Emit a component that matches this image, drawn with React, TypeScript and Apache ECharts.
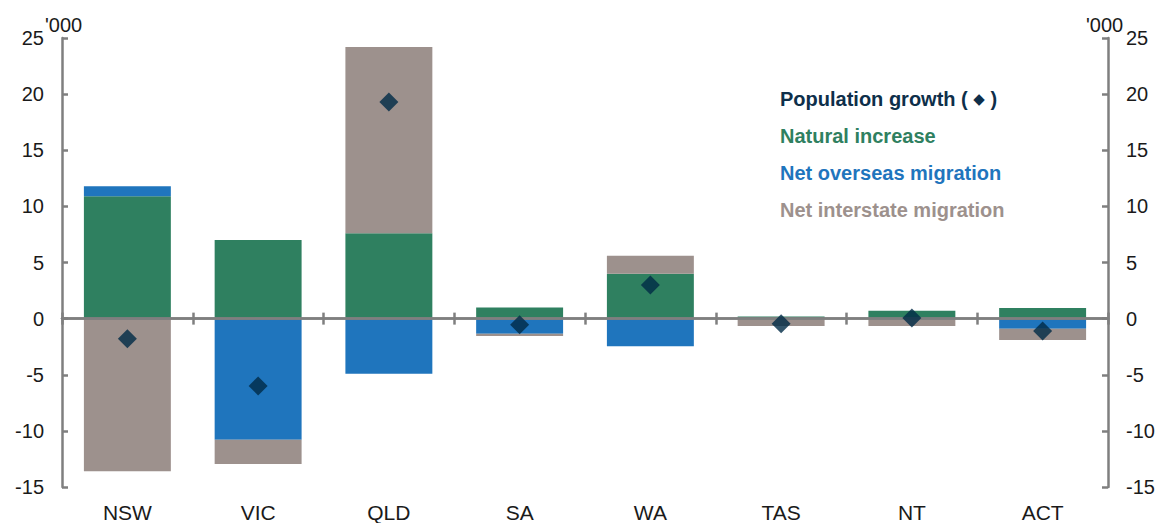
import React, { useEffect, useRef } from "react";
import * as echarts from "echarts";

const categories = ["NSW", "VIC", "QLD", "SA", "WA", "TAS", "NT", "ACT"];
const naturalIncrease = [10.9, 7.0, 7.6, 1.0, 4.0, 0.2, 0.7, 0.95];
const netOverseasMigration = [0.9, -10.8, -4.9, -1.35, -2.45, 0, 0, -0.9];
const netInterstateMigration = [-13.6, -2.15, 16.6, -0.2, 1.6, -0.65, -0.65, -1.0];
const populationGrowth = [-1.8, -6.0, 19.3, -0.55, 3.0, -0.45, 0.05, -1.1];
const unitLabel = "'000";

const FONT = "Liberation Sans, Arial, sans-serif";
const AXIS_COLOR = "#7f7f7f";
const GREEN = "#2F8060";
const BLUE = "#1F75BD";
const GREY = "#9D918D";
const NAVY = "#002A46";

export default function App() {
  const ref = useRef<HTMLDivElement>(null);
  useEffect(() => {
    if (!ref.current) return;
    const chart = echarts.init(ref.current, null, { renderer: "svg" });
    const yAxisBase = (position: "left" | "right") => ({
      type: "value",
      min: -15,
      max: 25,
      interval: 5,
      position,
      axisLine: { show: true, onZero: false, lineStyle: { color: AXIS_COLOR, width: 2.5 } },
      axisTick: { show: true, inside: true, length: 6, lineStyle: { color: AXIS_COLOR, width: 2.5 } },
      splitLine: { show: false },
      axisLabel: { fontSize: 20, color: "#1a1a1a", margin: 18, fontFamily: FONT },
    });
    const zeroAxis = (inside: boolean) => ({
      type: "category",
      data: categories,
      position: "bottom",
      z: 10,
      axisLine: { show: true, onZero: true, lineStyle: { color: AXIS_COLOR, width: 2.5 } },
      axisTick: { show: true, inside, length: 6, lineStyle: { color: AXIS_COLOR, width: 2.5 } },
      axisLabel: { show: false },
      splitLine: { show: false },
    });
    const barBase = {
      type: "bar",
      stack: "total",
      barWidth: "66.5%",
      xAxisIndex: 0,
      yAxisIndex: 0,
      emphasis: { disabled: true },
    };
    const unitText = (x: number) => ({
      type: "text",
      left: x,
      top: 15,
      style: { text: unitLabel, fontSize: 20, fill: "#1a1a1a", fontFamily: FONT },
    });
    chart.setOption({
      animation: false,
      textStyle: { fontFamily: FONT },
      grid: { left: 62, right: 56, top: 38, bottom: 33, containLabel: false },
      graphic: [unitText(45), unitText(1086)],
      legend: {
        orient: "vertical",
        left: 770,
        top: 84,
        icon: "none",
        itemWidth: 0,
        itemHeight: 20,
        itemGap: 17,
        selectedMode: false,
        formatter: (name: string) =>
          name.startsWith("Population") ? "Population growth ( {d|\u25C6} )" : name,
        textStyle: {
          fontSize: 20,
          fontWeight: "bold",
          fontFamily: FONT,
          rich: { d: { fontSize: 15, color: "#0E2F4A", fontFamily: "DejaVu Sans" } },
        },
        data: [
          { name: "Population growth (\u25C6)", textStyle: { color: "#0E2F4A" } },
          { name: "Natural increase", textStyle: { color: GREEN } },
          { name: "Net overseas migration", textStyle: { color: BLUE } },
          { name: "Net interstate migration", textStyle: { color: GREY } },
        ],
      },
      xAxis: [
        {
          type: "category",
          data: categories,
          position: "bottom",
          axisLine: { show: false, onZero: false },
          axisTick: { show: false },
          axisLabel: { fontSize: 21, color: "#1a1a1a", margin: 15, fontFamily: FONT },
          splitLine: { show: false },
        },
        zeroAxis(false),
        zeroAxis(true),
      ],
      yAxis: [yAxisBase("left"), yAxisBase("right")],
      series: [
        { ...barBase, name: "Natural increase", data: naturalIncrease, itemStyle: { color: GREEN } },
        { ...barBase, name: "Net overseas migration", data: netOverseasMigration, itemStyle: { color: BLUE } },
        { ...barBase, name: "Net interstate migration", data: netInterstateMigration, itemStyle: { color: GREY } },
        {
          type: "scatter",
          name: "Population growth (\u25C6)",
          data: populationGrowth,
          symbol: "diamond",
          symbolSize: 19,
          z: 20,
          itemStyle: { color: NAVY },
          emphasis: { disabled: true },
        },
      ],
    });
    return () => chart.dispose();
  }, []);
  return (
    <div
      ref={ref}
      style={{ position: "absolute", left: 0, top: 0, width: 1164, height: 523 }}
    />
  );
}
